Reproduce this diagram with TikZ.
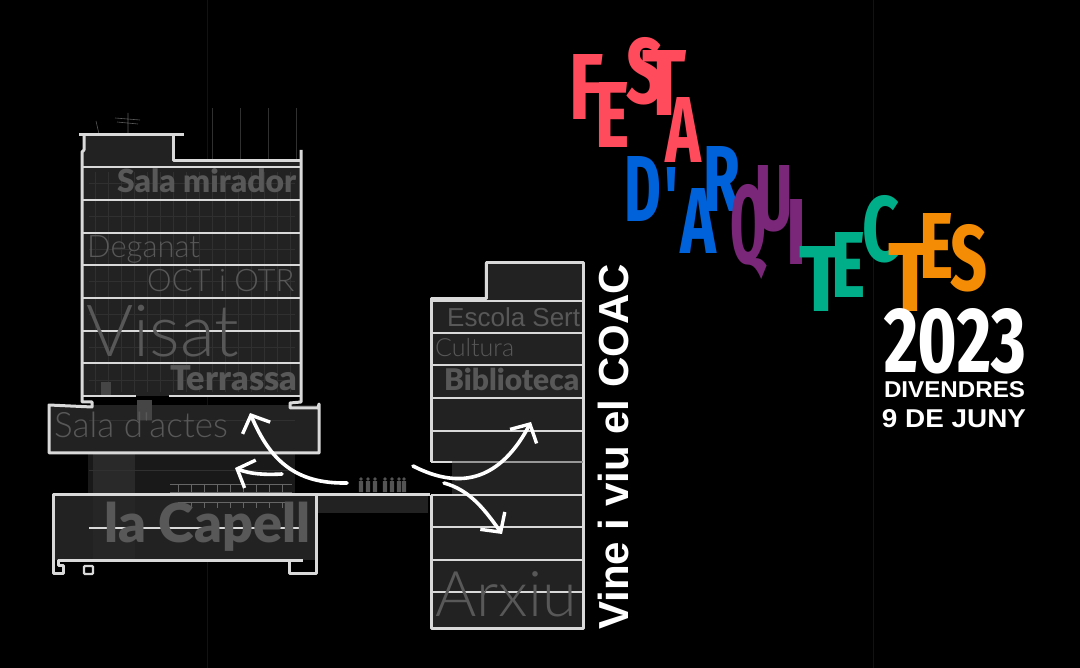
\documentclass[tikz,border=0pt]{standalone}
\usepackage{fontspec}
\usepackage{graphicx}
\setmainfont{Liberation Sans}
\newfontfamily\lightfont{Lato}[UprightFont=* Light]
\newfontfamily\blackfont{Lato}[UprightFont=* Black]
\newfontfamily\condfont{Fira Sans Condensed}[UprightFont=* Bold]
\usetikzlibrary{arrows.meta}
\definecolor{festred}{HTML}{FF4B5C}
\definecolor{festblue}{HTML}{0062DB}
\definecolor{festpurple}{HTML}{7A2679}
\definecolor{festgreen}{HTML}{00AE8A}
\definecolor{festorange}{HTML}{F58C06}
\definecolor{wallcol}{HTML}{D9D9D9}
\definecolor{floorcol}{HTML}{222222}
\definecolor{labelcol}{HTML}{585858}
\definecolor{gridcol}{HTML}{303030}

\begin{document}
\begin{tikzpicture}[x=1pt,y=-1pt,
  wall/.style={draw=wallcol,line width=3pt,line join=round},
  slab/.style={draw=wallcol,line width=2.9pt},
  faint/.style={draw=gridcol,line width=.6pt},
  lbl/.style={text=labelcol,anchor=base west,inner sep=0pt},
  ltr/.style={inner sep=0pt,font=\condfont},
  walk/.style={white,line width=3.6pt,line cap=round,-{Straight Barb[length=14pt,width=30pt,line width=3.4pt]}}]
\fill[black] (0,0) rectangle (1080,668);
\useasboundingbox (0,0) rectangle (1080,668);

\foreach \x in {207,873}
\draw [draw=white!7!black,line width=.5pt] (\x,0) -- (\x,668);

% tower
\fill[floorcol] (83,135) -- (173,135) -- (173,162) -- (301,162) -- (301,396) -- (82,396) -- cycle;
\fill[floorcol] (49,405) -- (319,405) -- (319,453) -- (49,453) -- cycle;
\fill[black!90!white] (88,453) rectangle (295,495);
\fill[white!16!black] (93,453) rectangle (135,495);
\fill[floorcol] (53,495) rectangle (316,560);
\fill[white!15!black] (93,495) rectangle (135,560);
\fill[floorcol] (316,495) rectangle (428,513);
\foreach \x in {95,108,...,295}
\draw [faint] (\x,172) -- (\x,392);
\foreach \y in {183,216,249,281,314,347,380,420,470}
\draw [faint] (89,\y) -- (295,\y);
\foreach \x in {212,240,268,296}
\draw [faint] (\x,108) -- (\x,160);
\draw [faint,draw=white!35!black] (128,113) -- (128,134) (115,118) -- (140,120) (117,122) -- (138,124) (96,121) -- (99,134);
\fill[white!27!black] (137,400) rectangle (152,420);
\fill[white!27!black] (101,382) rectangle (111,396);
\foreach \x in {178,191,...,292}
\draw [faint,draw=white!40!black] (\x,484) -- (\x,492) (\x,502) -- (\x,508);
\draw [faint,draw=white!40!black] (170,484) -- (292,484) (170,492) -- (292,492) (178,502) -- (292,502);

\draw [wall] (79,135) -- (184,135);
\draw [wall] (84,135) -- (84,150) -- (82,152) -- (82,402) -- (92,402) -- (92,407) -- (49,405) -- (49,453) -- (319,453) -- (319,404) -- (318,408) -- (290,408) -- (290,403) -- (301,402) -- (301,150);
\draw [wall] (173,135) -- (173,161) -- (301,161);
\foreach \y in {167,200,233,265,298,331,363}
\draw [slab] (82,\y) -- (301,\y);
\draw [slab] (82,396) -- (136,396) (169,396) -- (301,396);

% capella
\draw [wall] (59,494) -- (53,494) -- (53,573) -- (63,573) -- (63,565) -- (58,565) -- (58,560) -- (303,560) (289,561) -- (289,573) -- (316,573) -- (316,494);
\draw [wall] (59,494) -- (430,494);
\draw [slab] (89,528) -- (301,528);
\draw [draw=wallcol,line width=2.4pt,rounded corners=1pt] (84,566) rectangle (93,574);

% right building
\fill[floorcol] (484,263) -- (583,263) -- (583,628) -- (431,628) -- (431,495) -- (452,495) -- (452,462) -- (431,462) -- (431,299) -- (484,299) -- cycle;
\draw [wall] (431,462) -- (431,299) -- (486,299) -- (486,263) -- (583,263) -- (583,628) -- (431,628) -- (431,495);
\foreach \y in {301,333,365,398,431,495,527,560,592}
\draw [slab] (431,\y) -- (583,\y);
\draw [slab] (431,462) -- (452,462);
\draw [draw=wallcol!70!black,line width=2pt] (452,462) -- (583,462);
\foreach \x in {361,368,375,385,392,399,404}
\fill[white!33!black] (\x,479) circle (1.8pt) (\x-2.2,481) rectangle (\x+2.2,492);

\node[lbl,font=\blackfont] (mirador) at (117,193) {\resizebox{179pt}{!}{Sala mirador}};
\node[lbl,font=\lightfont\fontsize{31}{32}\selectfont] (deganat) at (87,258) {Deganat};
\node[lbl,font=\lightfont\fontsize{31}{32}\selectfont] (oct) at (147,292) {OCT i OTR};
\node[lbl,font=\lightfont\fontsize{72}{80}\selectfont] (visat) at (86,357) {Visat};
\node[lbl,font=\blackfont] (terrassa) at (170,391) {\resizebox{127pt}{!}{Terrassa}};
\node[lbl,font=\lightfont\fontsize{35}{36}\selectfont] (actes) at (54,438) {Sala d'actes};
\node[lbl,font=\blackfont] (capell) at (104,543) {\resizebox{206pt}{!}{la Capell}};
\node[lbl,font=\fontsize{26}{30}\selectfont] (sert) at (447,327) {Escola Sert};
\node[lbl,font=\lightfont\fontsize{25}{28}\selectfont] (cultura) at (435,357) {Cultura};
\node[lbl,font=\blackfont] (biblio) at (444,391) {\resizebox{135pt}{!}{Biblioteca}};
\node[lbl,font=\lightfont\fontsize{63}{70}\selectfont] (arxiu) at (435,616) {Arxiu};

\coordinate (tipA) at (250,413);
\coordinate (tipB) at (235,468);
\coordinate (tipC) at (531,422);
\coordinate (tipD) at (502,534);
\coordinate (fromA) at (347,483);
\coordinate (fromB) at (282,474);
\coordinate (fromC) at (413,466);
\coordinate (fromD) at (444,483);
\draw [walk] (fromA) .. controls (295,484) and (270,460) .. (tipA);
\draw [walk] (fromB) .. controls (265,475) and (250,474) .. (tipB);
\draw [walk] (fromC) .. controls (450,485) and (495,490) .. (tipC);
\draw [walk] (fromD) .. controls (470,490) and (485,510) .. (tipD);

\foreach \name/\x/\y/\w/\h/\col/\txt in {
  f/587/87/34/65/festred/F,e/613/115/34/65/festred/E,
  t/665/83/44/65/festred/T,s/645/71/37/66/festred/S,a/683/130/36/65/festred/A,
  d/643/189/37/65/festblue/D,q/671/198/14/60/festblue/{'},a2/698/221/36/65/festblue/A,r/722/179/37/65/festblue/R,
  u/774/199/37/65/festpurple/U,qu/749/232/36/79/festpurple/Q,i/796/232/20/65/festpurple/I,
  t2/822/279/44/65/festgreen/T,e2/848/265/34/65/festgreen/E,c/881/229/37/66/festgreen/C,
  t3/910/277/44/68/festorange/T,e3/936/246/34/65/festorange/E,s3/969/258/37/66/festorange/S}
\node[ltr,text=\col] (\name) at (\x,\y) {\resizebox{\w pt}{\h pt}{\txt}};

\node[ltr,text=white] (year) at (955,341) {\resizebox{142pt}{64pt}{2023}};
\node[ltr,text=white,font=\bfseries,anchor=base] (dia) at (954.5,398) {\resizebox{141pt}{16pt}{DIVENDRES}};
\node[ltr,text=white,font=\bfseries,anchor=base] (data) at (954,428) {\resizebox{144pt}{18pt}{9 DE JUNY}};
\node[ltr,text=white,rotate=90,anchor=base west,font=\bfseries\fontsize{42}{44}\selectfont] (vine) at (628,630) {Vine i viu el COAC};
\end{tikzpicture}
\end{document}
